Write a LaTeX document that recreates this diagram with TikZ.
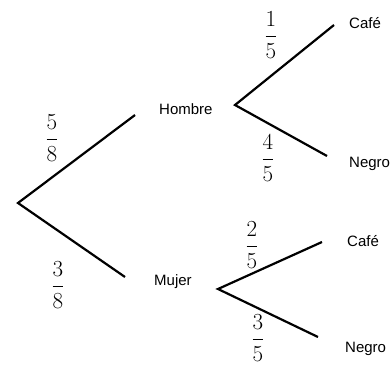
\RequirePackage{fix-cm}
\documentclass[tikz,border=0pt]{standalone}
\usepackage{amsmath}
\usepackage{fontspec}
\newfontfamily\labelfont{Liberation Sans}
\usetikzlibrary{positioning}

\begin{document}
\begin{tikzpicture}[x=1pt, y=-1pt,
        branch/.style={line width=2.2pt},
        leaf/.style={font=\labelfont\fontsize{15}{18}\selectfont, inner sep=0pt, anchor=base west},
        prob/.style={font=\fontsize{23}{28}\selectfont, inner sep=0pt}
      ]
      \useasboundingbox (0,0) rectangle (390,366);

      % branch points
      \coordinate (root) at (18,203);
      \coordinate (hIn) at (135,115);
      \coordinate (mIn) at (125,277);
      \coordinate (hOut) at (235,105);
      \coordinate (mOut) at (218,289);
      \coordinate (hcafe) at (334,25);
      \coordinate (hnegro) at (327,156);
      \coordinate (mcafe) at (322,242);
      \coordinate (mnegro) at (318,337);

      \node[leaf] (hombre) at (159,115) {Hombre};
      \node[leaf] (mujer) at (154,285) {Mujer};
      \node[leaf] (cafe1) at (349,29) {Café};
      \node[leaf] (negro1) at (349,167) {Negro};
      \node[leaf] (cafe2) at (347,246) {Café};
      \node[leaf] (negro2) at (345,352) {Negro};

      \draw[branch] (hIn) -- (root) -- (mIn);
      \draw[branch] (hcafe) -- (hOut) -- (hnegro);
      \draw[branch] (mcafe) -- (mOut) -- (mnegro);

      \node[prob] (p58) at (52,138) {$\dfrac{5}{8}$};
      \node[prob] (p38) at (58,285) {$\dfrac{3}{8}$};
      \node[prob] (p15) at (271,35) {$\dfrac{1}{5}$};
      \node[prob] (p45) at (268,158) {$\dfrac{4}{5}$};
      \node[prob] (p25) at (252,245) {$\dfrac{2}{5}$};
      \node[prob] (p35) at (258,338) {$\dfrac{3}{5}$};
    \end{tikzpicture}
\end{document}
